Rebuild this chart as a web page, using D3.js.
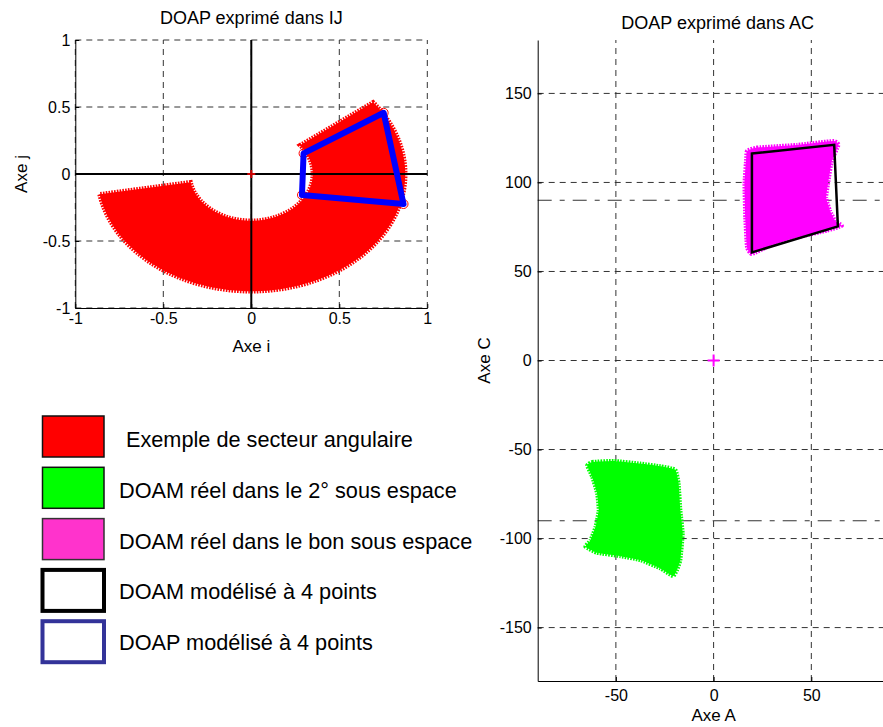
<!DOCTYPE html>
<html>
<head>
<meta charset="utf-8">
<script src="https://cdn.jsdelivr.net/npm/d3@7/dist/d3.min.js"></script>
<style>
body{margin:0;background:#fff;}
svg{display:block;font-family:"Liberation Sans",Arial,sans-serif;}
.grid line{stroke:#333;stroke-width:1;stroke-dasharray:6,5;}
.axis path,.axis line{stroke:#000;stroke-width:1;}
.axis text{font-size:16px;fill:#000;font-family:"Liberation Sans",Arial,sans-serif;}
.title{font-size:18px;fill:#000;}
.label{font-size:17px;fill:#000;}
.legend text{font-size:21.7px;fill:#000;}
</style>
</head>
<body>
<svg id="chart" width="883" height="727"></svg>
<script>
// ticks
var ijTicks = [-1, -0.5, 0, 0.5, 1];
var acTicksA = [-50, 0, 50];
var acTicksC = [-150, -100, -50, 0, 50, 100, 150];
var acDashDot = [90, -90];

// secteur angulaire (rayons, angles en degres)
var sectorRadii = [0.35, 0.875];
var sectorAngles = [190, 397.7];

// DOAP modelise a 4 points (i, j)
var doapQuad = [[0.297, 0.154], [0.752, 0.457], [0.865, -0.224], [0.288, -0.157]];

// DOAM modelise a 4 points (A, C)
var doamQuad = [[19.6, 116.2], [61.7, 121.1], [63.6, 75.3], [19.6, 60.7]];

// DOAM reel dans le bon sous espace (contour)
var doamBon = [[17.1, 117.7], [22.2, 119.6], [42.6, 121.1], [61.3, 123.3], [63.9, 121.1], [60.5, 112.1],
	[58.8, 100.9], [57.6, 91.5], [59.6, 84.1], [62.2, 78.5], [65.6, 75.7], [57.9, 72.9], [42.6, 69.1],
	[29.0, 64.5], [19.6, 59.8], [17.1, 63.5], [16.2, 80.3], [15.8, 99.0], [16.7, 114.0]];

// DOAM reel dans le 2e sous espace (contour)
var doam2 = [[-64.7, -58.9], [-62.1, -57.0], [-51.1, -56.4], [-37.5, -57.9], [-27.2, -59.4], [-19.6, -61.3],
	[-17.9, -69.1], [-17.0, -84.1], [-15.8, -97.2], [-17.0, -112.1], [-18.7, -117.7], [-20.8, -121.1],
	[-27.2, -116.8], [-37.5, -112.1], [-47.7, -109.9], [-59.6, -108.0], [-65.6, -104.6], [-63.0, -100.9],
	[-60.4, -93.4], [-58.8, -84.1], [-59.6, -74.7], [-62.1, -65.4]];

var legendLabels = ["Exemple de secteur angulaire", "DOAM réel dans le 2° sous espace",
	"DOAM réel dans le bon sous espace", "DOAM modélisé à 4 points", "DOAP modélisé à 4 points"];
var legendFill = ["#ff0000", "#00ff00", "#ff33cc", "#ffffff", "#ffffff"];
var legendStroke = ["#111111", "#111111", "#333333", "#000000", "#333399"];

var svg = d3.select("#chart");
var fmt = function(d){ return String(d); };

function drawGrid(g, x, y, xt, yt){
	var grid = g.append("g").attr("class", "grid");
	grid.selectAll("line.v").data(xt).enter().append("line")
		.attr("class", "v")
		.attr("x1", function(d){return x(d);}).attr("x2", function(d){return x(d);})
		.attr("y1", y.range()[0]).attr("y2", y.range()[1]);
	grid.selectAll("line.h").data(yt).enter().append("line")
		.attr("class", "h")
		.attr("y1", function(d){return y(d);}).attr("y2", function(d){return y(d);})
		.attr("x1", x.range()[0]).attr("x2", x.range()[1]);
}

// zone remplie + bord "poilu" (marqueurs +)
function fuzzy(g, d, color, w, transform){
	var p = g.append("path").attr("d", d).attr("fill", color);
	var s = g.append("path").attr("d", d).attr("fill", "none")
		.attr("stroke", color).attr("stroke-width", w).attr("stroke-dasharray", "1.6,1.2")
		.attr("vector-effect", "non-scaling-stroke");
	if(transform){ p.attr("transform", transform); s.attr("transform", transform); }
}

// ---------- DOAP exprime dans IJ ----------
var xI = d3.scaleLinear().domain([-1, 1]).range([75.3, 427.3]);
var yJ = d3.scaleLinear().domain([-1, 1]).range([308, 40]);
var gL = svg.append("g");

drawGrid(gL, xI, yJ, ijTicks, ijTicks);

var arc = d3.arc()
	.innerRadius(sectorRadii[0]).outerRadius(sectorRadii[1])
	.startAngle((sectorAngles[0] + 90) * Math.PI / 180)
	.endAngle((sectorAngles[1] + 90) * Math.PI / 180);

fuzzy(gL, arc(), "#ff0000", 4.5,
	"translate(" + xI(0) + "," + yJ(0) + ") scale(" + (xI(1) - xI(0)) + "," + (yJ(1) - yJ(0)) + ")");

gL.append("line").attr("x1", xI(0)).attr("x2", xI(0)).attr("y1", yJ(-1)).attr("y2", yJ(1))
	.attr("stroke", "#000").attr("stroke-width", 2);
gL.append("line").attr("x1", xI(-1)).attr("x2", xI(1)).attr("y1", yJ(0)).attr("y2", yJ(0))
	.attr("stroke", "#000").attr("stroke-width", 2);

// croix a l'origine
gL.append("path")
	.attr("d", "M" + (xI(0) - 4) + "," + yJ(0) + "H" + (xI(0) + 4) + "M" + xI(0) + "," + (yJ(0) - 4) + "V" + (yJ(0) + 4))
	.attr("stroke", "#cc0000").attr("stroke-width", 2);

var lineIJ = d3.line().x(function(d){return xI(d[0]);}).y(function(d){return yJ(d[1]);});

gL.selectAll("circle.pt").data(doapQuad).enter().append("circle")
	.attr("class", "pt")
	.attr("cx", function(d){return xI(d[0]);}).attr("cy", function(d){return yJ(d[1]);})
	.attr("r", 4.5).attr("fill", "none").attr("stroke", "#ff0000").attr("stroke-width", 1);

gL.append("path")
	.attr("d", lineIJ(doapQuad) + "Z")
	.attr("fill", "none").attr("stroke", "#0000ff").attr("stroke-width", 6)
	.attr("stroke-linejoin", "round");

gL.append("g").attr("class", "axis")
	.attr("transform", "translate(0," + yJ(-1) + ")")
	.call(d3.axisBottom(xI).tickValues(ijTicks).tickFormat(fmt).tickSizeInner(-4).tickSizeOuter(0).tickPadding(5));
gL.append("g").attr("class", "axis")
	.attr("transform", "translate(" + xI(-1) + ",0)")
	.call(d3.axisLeft(yJ).tickValues(ijTicks).tickFormat(fmt).tickSizeInner(-4).tickSizeOuter(0).tickPadding(5));

gL.append("text").attr("class", "title").attr("x", xI(0)).attr("y", 24).attr("text-anchor", "middle").text("DOAP exprimé dans IJ");
gL.append("text").attr("class", "label").attr("x", xI(0)).attr("y", 352).attr("text-anchor", "middle").text("Axe i");
gL.append("text").attr("class", "label").attr("transform", "translate(27," + yJ(0) + ") rotate(-90)")
	.attr("text-anchor", "middle").text("Axe j");

// ---------- DOAP exprime dans AC ----------
var xA = d3.scaleLinear().domain([-90, 90]).range([537.7, 889.5]);
var yC = d3.scaleLinear().domain([-180, 180]).range([681, 40]);
var gR = svg.append("g");

drawGrid(gR, xA, yC, acTicksA, acTicksC);

gR.selectAll("line.dd").data(acDashDot).enter().append("line")
	.attr("class", "dd")
	.attr("x1", xA(-90)).attr("x2", xA(90))
	.attr("y1", function(d){return yC(d);}).attr("y2", function(d){return yC(d);})
	.attr("stroke", "#333").attr("stroke-width", 1).attr("stroke-dasharray", "14,8,5,8");

var lineAC = d3.line().x(function(d){return xA(d[0]);}).y(function(d){return yC(d[1]);}).curve(d3.curveCardinalClosed.tension(0.6));

fuzzy(gR, lineAC(doam2), "#00ff00", 4);
fuzzy(gR, lineAC(doamBon), "#ff00ff", 4);

var quadAC = d3.line().x(function(d){return xA(d[0]);}).y(function(d){return yC(d[1]);});
gR.append("path")
	.attr("d", quadAC(doamQuad) + "Z")
	.attr("fill", "none").attr("stroke", "#000").attr("stroke-width", 2.5);

gR.append("path")
	.attr("d", "M" + (xA(0) - 6) + "," + yC(0) + "H" + (xA(0) + 6) + "M" + xA(0) + "," + (yC(0) - 6) + "V" + (yC(0) + 6))
	.attr("stroke", "#ff00ff").attr("stroke-width", 2);

gR.append("g").attr("class", "axis")
	.attr("transform", "translate(0," + yC(-180) + ")")
	.call(d3.axisBottom(xA).tickValues(acTicksA).tickFormat(fmt).tickSizeInner(-4).tickSizeOuter(0).tickPadding(9));
gR.append("g").attr("class", "axis")
	.attr("transform", "translate(" + xA(-90) + ",0)")
	.call(d3.axisLeft(yC).tickValues(acTicksC).tickFormat(fmt).tickSizeInner(-4).tickSizeOuter(0).tickPadding(6));

gR.append("text").attr("class", "title").attr("x", xA(0) + 4).attr("y", 29).attr("text-anchor", "middle").text("DOAP exprimé dans AC");
gR.append("text").attr("class", "label").attr("x", xA(0)).attr("y", 721).attr("text-anchor", "middle").text("Axe A");
gR.append("text").attr("class", "label").attr("transform", "translate(490," + yC(0) + ") rotate(-90)")
	.attr("text-anchor", "middle").text("Axe C");

// ---------- legende ----------
var leg = svg.append("g").attr("class", "legend");
leg.selectAll("rect").data(legendLabels).enter().append("rect")
	.attr("x", 42.5)
	.attr("y", function(d, i){return 416 + i * 51.3;})
	.attr("width", 61.5).attr("height", 41)
	.attr("fill", function(d, i){return legendFill[i];})
	.attr("stroke", function(d, i){return legendStroke[i];})
	.attr("stroke-width", function(d, i){return i < 3 ? 1.5 : 4;});
leg.selectAll("text").data(legendLabels).enter().append("text")
	.attr("x", function(d, i){return i == 0 ? 126 : 119;})
	.attr("y", function(d, i){return 447 + i * 50.8;})
	.text(function(d){return d;});
</script>
</body>
</html>
